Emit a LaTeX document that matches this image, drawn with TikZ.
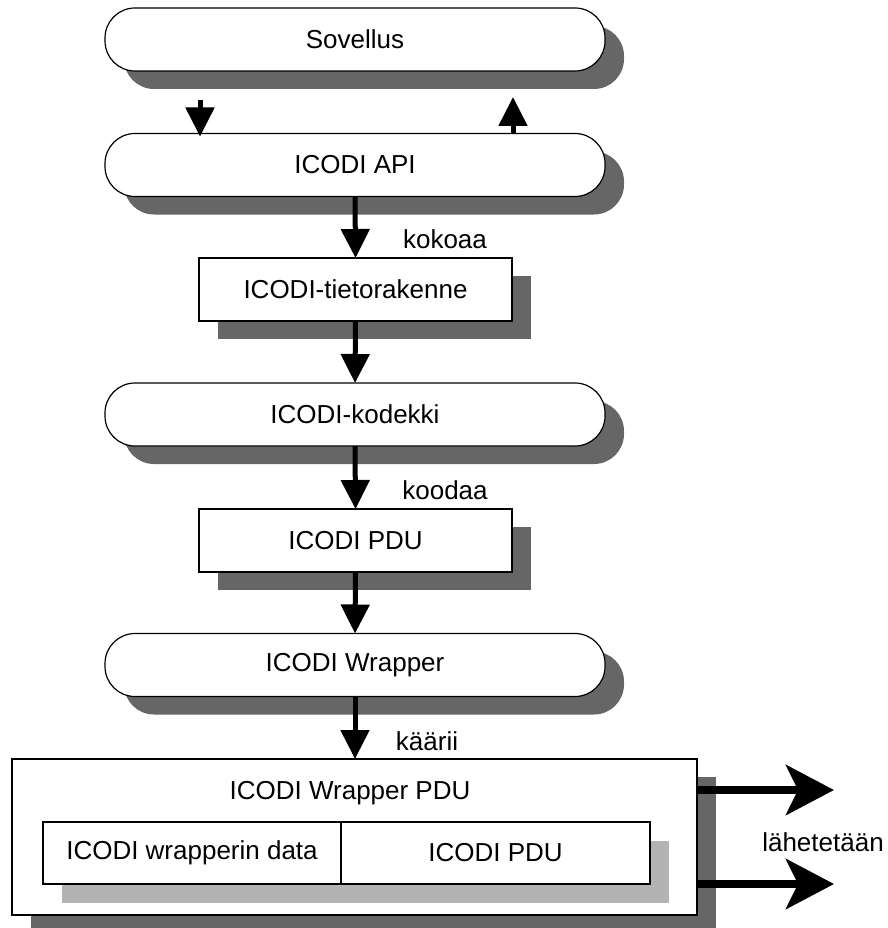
\documentclass[tikz,border=0pt]{standalone}
\usepackage{fontspec}
\setmainfont{Liberation Sans}
\usetikzlibrary{arrows.meta,shadows,calc}
\definecolor{shade}{HTML}{666666}
\definecolor{lightshade}{HTML}{B3B3B3}
\begin{document}
\begin{tikzpicture}[x=1pt,y=-1pt,
  font=\fontsize{26}{31}\selectfont,
  every node/.style={inner sep=0pt, outer sep=0pt},
  darkshadow/.style={drop shadow={shadow xshift=19pt, shadow yshift=-18pt, fill=shade, opacity=1}},
  layer/.style={draw=black, line width=1.2pt, fill=white, rounded corners=30pt,
    minimum width=500pt, minimum height=63pt, darkshadow},
  datablock/.style={draw=black, line width=1.2pt, fill=white,
    minimum width=313pt, minimum height=63pt, darkshadow},
  flow/.style={line width=5pt, -{Triangle[length=29pt,width=28pt]}},
  send/.style={line width=8pt, -{Stealth[length=48pt,width=50pt,inset=12pt]}},
]
\useasboundingbox (0,0) rectangle (887,928);

% protocol layers and data structures
\node[layer] (app) at (355,39.5) {Sovellus};
\node[layer] (api) at (355,165) {ICODI API};
\node[datablock] (struct) at (355.5,289.5) {ICODI-tietorakenne};
\node[layer] (codec) at (355,414.5) {ICODI-kodekki};
\node[datablock] (pdu) at (355.5,540.5) {ICODI PDU};
\node[layer] (wrapper) at (355,665) {ICODI Wrapper};

% wrapped PDU
\node[draw=black, line width=1.2pt, fill=white, minimum width=685pt, minimum height=156pt,
  darkshadow] (wpdu) at (354.5,837) {};
\node (wtitle) at (350,793) {ICODI Wrapper PDU};
\node[draw=black, line width=1.2pt, fill=white, minimum width=607pt, minimum height=62pt,
  drop shadow={shadow xshift=19pt, shadow yshift=-19pt, fill=lightshade, opacity=1}] (inner) at (346.5,853) {};
\coordinate (split) at (341,853);
\draw[line width=1.2pt] (split |- inner.north) -- (split |- inner.south);
\node (wdata) at (192,853) {ICODI wrapperin data};
\node (wcontent) at (495.5,853) {ICODI PDU};

% calls between application and API
\coordinate (down) at (200,100);
\coordinate (up) at (513,97);
\draw[flow] (down) -- ($(down |- api.north)+(0,3)$);
\draw[flow] (up |- api.north) -- (up);

% processing chain
\draw[flow] (api.south) -- (struct.north);
\draw[flow] (struct.south) -- (codec.north);
\draw[flow] (codec.south) -- (pdu.north);
\draw[flow] (pdu.south) -- (wrapper.north);
\draw[flow] (wrapper.south) -- (wpdu.north -| wrapper.south);

\node (kokoaa) at (445,239) {kokoaa};
\node (koodaa) at (445,490) {koodaa};
\node (kaarii) at (427,741) {käärii};

% transmission
\coordinate (out1) at (834,790);
\coordinate (out2) at (834,884);
\draw[send] (wpdu.east |- out1) -- (out1);
\draw[send] (wpdu.east |- out2) -- (out2);
\node (send) at (823,842) {lähetetään};
\end{tikzpicture}
\end{document}
